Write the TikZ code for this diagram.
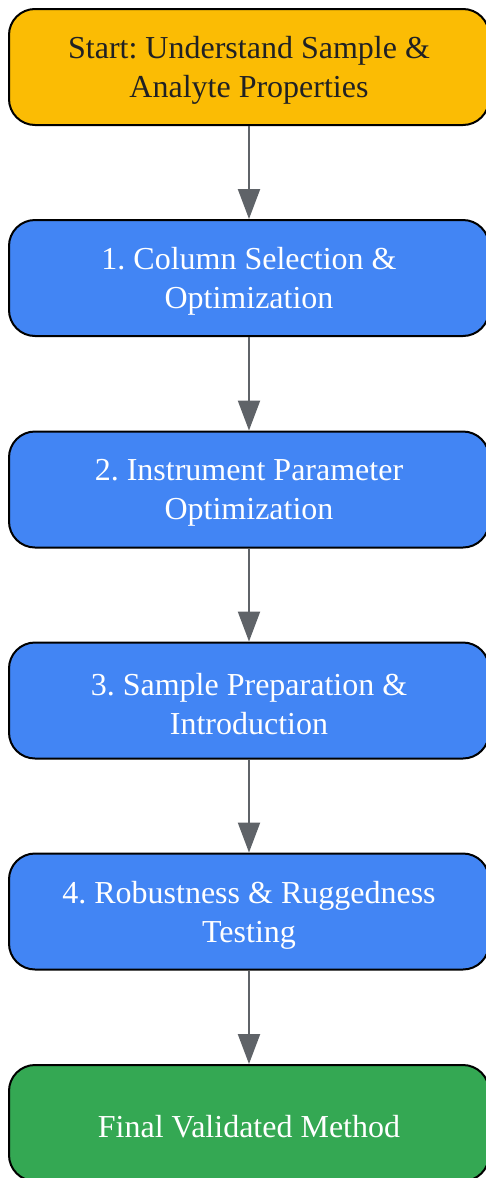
\documentclass[tikz,border=0pt]{standalone}
\usepackage{fontspec}
\setmainfont{Liberation Serif}
\frenchspacing
\usetikzlibrary{arrows.meta}
\definecolor{gyellow}{HTML}{FBBC04}
\definecolor{gblue}{HTML}{4285F4}
\definecolor{ggreen}{HTML}{34A853}
\definecolor{darktext}{HTML}{202124}
\definecolor{arrowgray}{HTML}{5F6368}
\begin{document}
\begin{tikzpicture}[x=1pt,y=1pt,
  box/.style={draw=black, line width=2pt, rounded corners=26pt,
    minimum width=480pt, minimum height=116pt, inner sep=0pt},
  boxtext/.style={align=center, font=\fontsize{32}{39}\selectfont,
    inner sep=0pt, text=white, yshift=-3.5pt},
  flow/.style={draw=arrowgray, line width=2.2pt,
    -{Triangle[length=30pt,width=22pt]}}]
\useasboundingbox (0,0) rectangle (486,-1178);
\node[box, fill=gyellow] (b0) at (249,-67) {};
\node[boxtext, text=darktext] (t0) at (b0.center) {Start: Understand Sample \&\\Analyte Properties};
\node[box, fill=gblue] (b1) at (249,-278) {};
\node[boxtext] (t1) at (b1.center) {1. Column Selection \&\\Optimization};
\node[box, fill=gblue] (b2) at (249,-489.5) {};
\node[boxtext] (t2) at (b2.center) {2. Instrument Parameter\\Optimization};
\node[box, fill=gblue] (b3) at (249,-700.5) {};
\node[boxtext] (t3) at (b3.center) {3. Sample Preparation \&\\Introduction};
\node[box, fill=gblue] (b4) at (249,-911.5) {};
\node[boxtext] (t4) at (b4.center) {4. Robustness \& Ruggedness\\Testing};
\node[box, fill=ggreen] (b5) at (249,-1123) {};
\node[boxtext] (t5) at (b5.center) {Final Validated Method};
\foreach \a/\b in {b0/b1,b1/b2,b2/b3,b3/b4,b4/b5}
  \draw[flow] (\a.south) -- (\b.north);
\end{tikzpicture}
\end{document}
